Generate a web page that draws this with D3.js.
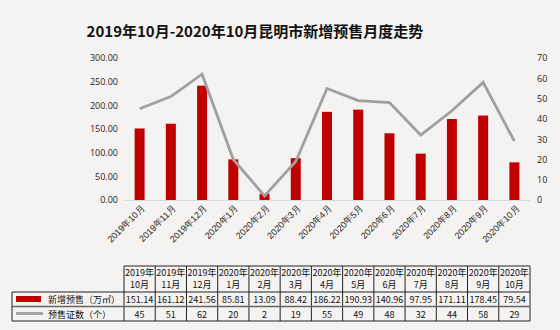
<!DOCTYPE html>
<html>
<head>
<meta charset="utf-8">
<script src="https://cdn.jsdelivr.net/npm/d3@7/dist/d3.min.js"></script>
<style>
  html, body { margin: 0; padding: 0; background: #f5f3f1; }
  svg { display: block; font-family: "Noto Sans CJK SC", "Noto Sans", sans-serif; }
</style>
</head>
<body>
<svg id="chart" width="560" height="330"></svg>
<script>
// Monthly data, Oct 2019 – Oct 2020
const months = ["2019年10月","2019年11月","2019年12月","2020年1月","2020年2月","2020年3月","2020年4月","2020年5月","2020年6月","2020年7月","2020年8月","2020年9月","2020年10月"];
const headerYear = ["2019年","2019年","2019年","2020年","2020年","2020年","2020年","2020年","2020年","2020年","2020年","2020年","2020年"];
const headerMonth = ["10月","11月","12月","1月","2月","3月","4月","5月","6月","7月","8月","9月","10月"];
const area = [151.14,161.12,241.56,85.81,13.09,88.42,186.22,190.93,140.96,97.95,171.11,178.45,79.54];
const permits = [45,51,62,20,2,19,55,49,48,32,44,58,29];
const leftTicks = [0,50,100,150,200,250,300];
const rightTicks = [0,10,20,30,40,50,60,70];
const seriesNames = ["新增预售（万㎡）","预售证数（个）"];
const title = "2019年10月-2020年10月昆明市新增预售月度走势";

const svg = d3.select("#chart");
const barColor = "#c00000", lineColor = "#a0a0a0";

svg.append("text").attr("x", 255).attr("y", 37).attr("text-anchor", "middle")
  .attr("font-size", 15).attr("font-weight", "bold").attr("fill", "#111").text(title);

const x = d3.scaleBand().domain(months).range([124, 530]).paddingInner(0.68).paddingOuter(0.34);
const xc = d3.scalePoint().domain(months).range([124, 530]).padding(0.5);
const yL = d3.scaleLinear().domain([0, 300]).range([200, 58]);
const yR = d3.scaleLinear().domain([0, 70]).range([200, 58]);

// left axis
const gL = svg.append("g").attr("transform", "translate(124,0)")
  .call(d3.axisLeft(yL).tickValues(leftTicks).tickFormat(d3.format(".2f")).tickSize(0).tickPadding(6));
gL.select(".domain").remove();
gL.selectAll("text").attr("font-size", 9).attr("fill", "#222").attr("font-family", "'Open Sans', sans-serif");

// right axis
const gR = svg.append("g").attr("transform", "translate(530,0)")
  .call(d3.axisRight(yR).tickValues(rightTicks).tickSize(0).tickPadding(7));
gR.select(".domain").remove();
gR.selectAll("text").attr("font-size", 9).attr("fill", "#222").attr("font-family", "'Open Sans', sans-serif");

// baseline
svg.append("line").attr("x1", 124).attr("x2", 530).attr("y1", 200.5).attr("y2", 200.5)
  .attr("stroke", "#d9d9d9").attr("stroke-width", 1);

// bars
svg.append("g").selectAll("rect").data(area).join("rect")
  .attr("x", (d, i) => x(months[i])).attr("width", x.bandwidth())
  .attr("y", d => yL(d)).attr("height", d => yL(0) - yL(d))
  .attr("fill", barColor);

// line
svg.append("path").datum(permits)
  .attr("d", d3.line().x((d, i) => xc(months[i])).y(d => yR(d)))
  .attr("fill", "none").attr("stroke", lineColor).attr("stroke-width", 2.8).attr("stroke-linejoin", "miter");

// category labels (rotated)
const gX = svg.append("g").attr("transform", "translate(0,200)")
  .call(d3.axisBottom(xc).tickSize(0).tickPadding(0));
gX.select(".domain").remove();
gX.selectAll("text").attr("font-size", 9).attr("fill", "#222")
  .attr("text-anchor", "end").attr("dy", 0)
  .attr("transform", "translate(5,9) rotate(-45)");

// data table
const tTop = 266, hH = 26, rH = 14.5;
const colW = x.step();
const tbl = svg.append("g");
const r1 = tTop + hH, r2 = r1 + rH, r3 = r2 + rH;

// header and value cells
months.forEach((m, i) => {
  const cx = xc(m);
  tbl.append("text").attr("x", cx).attr("y", tTop + 10).attr("text-anchor", "middle")
    .attr("font-size", 9).attr("fill", "#111").text(headerYear[i]);
  tbl.append("text").attr("x", cx).attr("y", tTop + 22).attr("text-anchor", "middle")
    .attr("font-size", 9).attr("fill", "#111").text(headerMonth[i]);
  tbl.append("text").attr("x", cx).attr("y", r1 + 11).attr("text-anchor", "middle")
    .attr("font-size", 9).attr("fill", "#111").text(area[i].toFixed(2));
  tbl.append("text").attr("x", cx).attr("y", r2 + 11).attr("text-anchor", "middle")
    .attr("font-size", 9).attr("fill", "#111").text(permits[i]);
});

// grid lines
const xs = d3.range(months.length + 1).map(i => 124 + i * colW);
xs.forEach(xv => {
  tbl.append("line").attr("x1", xv).attr("x2", xv).attr("y1", tTop).attr("y2", r3)
    .attr("stroke", "#222").attr("stroke-width", 1);
});
tbl.append("line").attr("x1", 124).attr("x2", 530).attr("y1", tTop).attr("y2", tTop).attr("stroke", "#222");
tbl.append("line").attr("x1", 12).attr("x2", 530).attr("y1", r1).attr("y2", r1).attr("stroke", "#222");
tbl.append("line").attr("x1", 12).attr("x2", 530).attr("y1", r2).attr("y2", r2).attr("stroke", "#666").attr("stroke-width", 1.6);
tbl.append("line").attr("x1", 12).attr("x2", 530).attr("y1", r3).attr("y2", r3).attr("stroke", "#222");
tbl.append("line").attr("x1", 12).attr("x2", 12).attr("y1", r1).attr("y2", r3).attr("stroke", "#222");

// legend keys in table
tbl.append("rect").attr("x", 16).attr("y", r1 + 4).attr("width", 25).attr("height", 6).attr("fill", barColor);
tbl.append("line").attr("x1", 16).attr("x2", 43).attr("y1", r2 + 7).attr("y2", r2 + 7)
  .attr("stroke", lineColor).attr("stroke-width", 2.8);
tbl.append("text").attr("x", 48).attr("y", r1 + 11).attr("font-size", 9).attr("fill", "#111").text(seriesNames[0]);
tbl.append("text").attr("x", 48).attr("y", r2 + 11).attr("font-size", 9).attr("fill", "#111").text(seriesNames[1]);
</script>
</body>
</html>
